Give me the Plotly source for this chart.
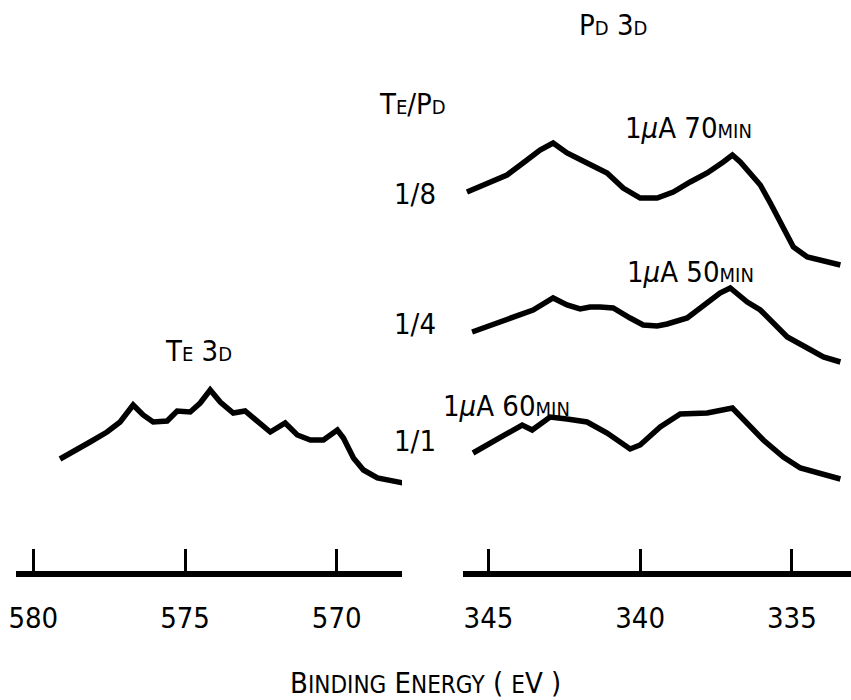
import plotly.graph_objects as go

# ---------------- data (binding energy in eV, intensity in arbitrary units, spectra stacked) ----
te_energy = [579.12, 578.56, 578.13, 577.57, 577.14, 576.71, 576.38, 576.05, 575.59, 575.26,
             574.83, 574.50, 574.17, 573.84, 573.41, 573.02, 572.62, 572.19, 571.70, 571.30,
             570.87, 570.44, 569.98, 569.78, 569.45, 569.12, 568.66, 567.80]
te_intensity = [112, 121, 129, 139, 149, 166, 156, 149, 150, 160,
                159, 168, 181, 169, 158, 160, 149, 139, 148, 136,
                131, 131, 141, 133, 113, 101, 93, 88]

pd18_energy = [345.71, 344.95, 344.39, 343.73, 343.30, 342.87, 342.41, 341.75, 341.09, 340.56,
               340.00, 339.44, 338.91, 338.35, 337.79, 337.26, 336.96, 336.70, 336.04, 335.71,
               335.38, 334.95, 334.49, 333.40]
pd18_intensity = [379, 388, 396, 411, 421, 428, 418, 408, 398, 383,
                  373, 373, 379, 389, 398, 409, 416, 409, 386, 368,
                  348, 324, 314, 306]

pd14_energy = [345.54, 344.39, 343.53, 342.87, 342.41, 341.98, 341.65, 341.32, 340.89, 340.33,
               339.90, 339.44, 339.11, 338.45, 337.79, 337.37, 337.03, 336.70, 336.47, 336.04,
               335.61, 335.15, 334.49, 333.96, 333.40]
pd14_intensity = [239, 251, 261, 273, 266, 262, 264, 264, 263, 253,
                  246, 245, 247, 253, 268, 278, 283, 274, 269, 261,
                  248, 234, 223, 214, 209]

pd11_energy = [345.51, 344.62, 343.89, 343.56, 342.97, 342.41, 341.75, 341.09, 340.33, 340.00,
               339.34, 338.68, 337.79, 336.96, 336.47, 335.94, 335.28, 334.72, 333.40]
pd11_intensity = [118, 133, 146, 141, 154, 152, 149, 138, 122, 126,
                  144, 157, 158, 163, 148, 131, 114, 103, 92]

te_ticks = [580, 575, 570]
pd_ticks = [345, 340, 335]

# ---------------- layout helpers ----------------
W, H = 851, 700
FONT = "DejaVu Sans Condensed, DejaVu Sans, sans-serif"
BIG = 29
SMALL = 20


def px(x):
    return x / W


def py(y):
    return 1 - y / H


def sc(s, size=SMALL):
    return f"<span style='font-size:{size}px'>{s}</span>"


fig = go.Figure()
line = dict(color="black", width=5.5)
fig.add_trace(go.Scatter(x=te_energy, y=te_intensity, mode="lines", line=line,
                         xaxis="x", yaxis="y", showlegend=False))
for e, i in [(pd18_energy, pd18_intensity), (pd14_energy, pd14_intensity),
             (pd11_energy, pd11_intensity)]:
    fig.add_trace(go.Scatter(x=e, y=i, mode="lines", line=line,
                             xaxis="x2", yaxis="y", showlegend=False))

axis_common = dict(
    showline=True, linewidth=6, linecolor="black",
    ticks="inside", ticklen=22, tickwidth=2.5, tickcolor="black",
    showgrid=False, zeroline=False, anchor="y", automargin=False,
    tickfont=dict(family=FONT, size=BIG, color="black"),
    ticklabelstandoff=16,
)

fig.update_layout(
    width=W, height=H,
    margin=dict(l=0, r=0, t=0, b=0, autoexpand=False),
    paper_bgcolor="white", plot_bgcolor="white",
    xaxis=dict(domain=[px(16), px(402)], range=[580.57, 567.85],
               tickvals=te_ticks, ticktext=[str(t) for t in te_ticks], **axis_common),
    xaxis2=dict(domain=[px(463), 1.0], range=[345.84, 333.05],
                tickvals=pd_ticks, ticktext=[str(t) for t in pd_ticks], **axis_common),
    yaxis=dict(domain=[py(571), 1.0], range=[0, 571], visible=False, automargin=False),
    font=dict(family=FONT, color="black", size=BIG),
)

annots = [
    ("P" + sc("D") + " 3" + sc("D"), 613, 25, "center"),
    ("T" + sc("E") + "/P" + sc("D"), 377, 104, "left"),
    ("1/8", 438, 194, "right"),
    ("1/4", 438, 324, "right"),
    ("1/1", 438, 441, "right"),
    ("1<i>μ</i>A 70" + sc("MIN"), 623, 128, "left"),
    ("1<i>μ</i>A 50" + sc("MIN"), 625, 272, "left"),
    ("1<i>μ</i>A 60" + sc("MIN"), 441, 406, "left"),
    ("T" + sc("E") + " 3" + sc("D"), 163, 351, "left"),
    ("B" + sc("INDING", 24) + " E" + sc("NERGY", 24) + " ( " + sc("E", 24) + "V )",
     425, 683, "center"),
]
for text, x, y, anchor in annots:
    fig.add_annotation(text=text, x=px(x), y=py(y), xref="paper", yref="paper",
                       xanchor=anchor, yanchor="middle", showarrow=False,
                       font=dict(family=FONT, size=BIG, color="black"))

fig.write_html("out.html")
